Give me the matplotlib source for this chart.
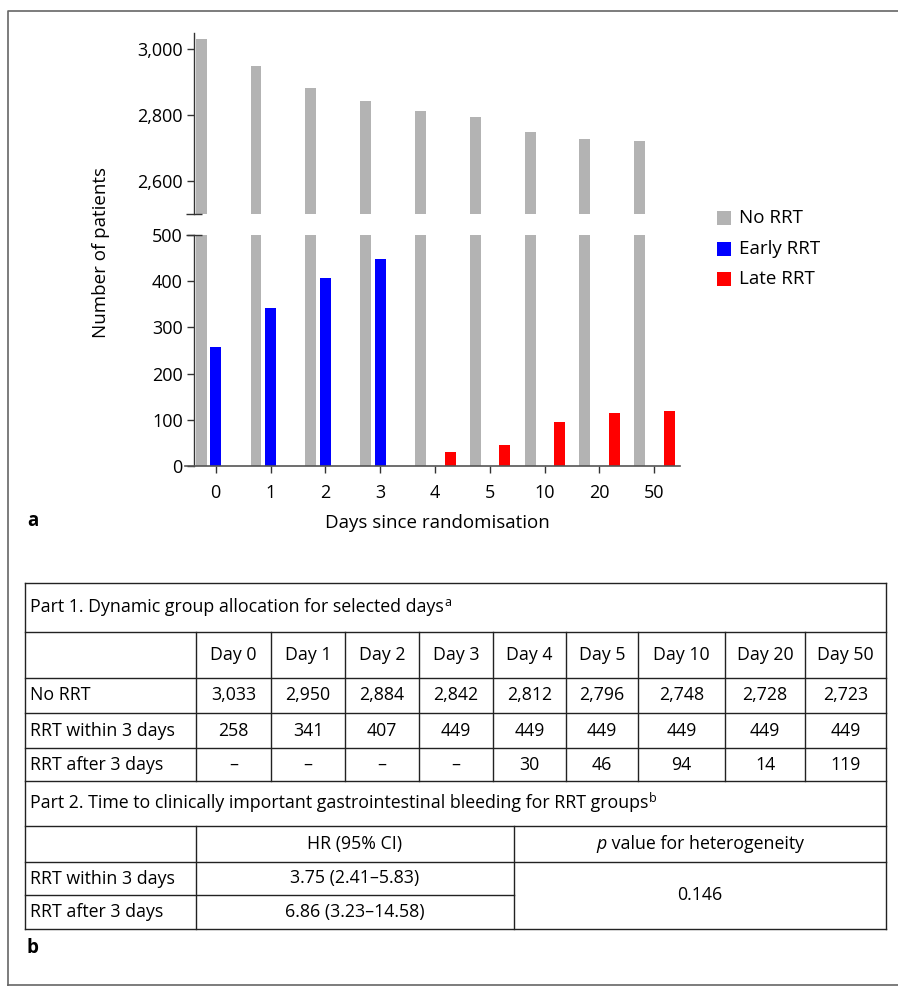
import matplotlib
matplotlib.use('Agg')
import matplotlib.pyplot as plt
from matplotlib.patches import Rectangle

plt.rcParams['font.family'] = ['Open Sans', 'DejaVu Sans']

# ---------------- data ----------------
days = ['0', '1', '2', '3', '4', '5', '10', '20', '50']
no_rrt = [3033, 2950, 2884, 2842, 2812, 2796, 2748, 2728, 2723]
early_rrt = [258, 341, 407, 449, 0, 0, 0, 0, 0]
late_rrt = [0, 0, 0, 0, 30, 46, 95, 115, 119]

series_names = ['No RRT', 'Early RRT', 'Late RRT']
series_colors = ['#b3b3b3', '#0000ff', '#ff0000']

top_ticks = [2600, 2800, 3000]
bottom_ticks = [0, 100, 200, 300, 400, 500]

tbl_days = ['Day 0', 'Day 1', 'Day 2', 'Day 3', 'Day 4', 'Day 5', 'Day 10', 'Day 20', 'Day 50']
tbl_no = ['3,033', '2,950', '2,884', '2,842', '2,812', '2,796', '2,748', '2,728', '2,723']
tbl_within = ['258', '341', '407', '449', '449', '449', '449', '449', '449']
tbl_after = ['–', '–', '–', '–', '30', '46', '94', '14', '119']
tbl_row_labels = ['No RRT', 'RRT within 3 days', 'RRT after 3 days']
hr_rows = ['RRT within 3 days', 'RRT after 3 days']
hr_vals = ['3.75 (2.41–5.83)', '6.86 (3.23–14.58)']
p_het = '0.146'

# ---------------- figure ----------------
W, H = 898, 986
fig = plt.figure(figsize=(W / 100, H / 100), dpi=100)

def fx(px):
    return px / W

def fy(py):
    return 1 - py / H

AX_L, AX_R = 185, 680
XLIM = (-0.56, 8.47)
SPINE_X = -0.40
SPINE_C = '#333333'
TICK_FS = 13

axb = fig.add_axes([fx(AX_L), fy(466), fx(AX_R) - fx(AX_L), fy(235) - fy(466)])
axt = fig.add_axes([fx(AX_L), fy(214), fx(AX_R) - fx(AX_L), fy(33) - fy(214)])

x = list(range(len(days)))
offs = [-0.265, 0.0, 0.275]
vals = [no_rrt, early_rrt, late_rrt]
for ax in (axb, axt):
    for o, v, c in zip(offs, vals, series_colors):
        ax.bar([xi + o for xi in x], v, width=0.2, color=c, linewidth=0)
    ax.set_xlim(*XLIM)
    for s in ('top', 'right'):
        ax.spines[s].set_visible(False)
    ax.spines['left'].set_position(('data', SPINE_X))
    ax.spines['left'].set_color(SPINE_C)
    ax.spines['left'].set_linewidth(1.0)
    ax.tick_params(axis='y', direction='out', length=5, width=1.0, color=SPINE_C,
                   labelsize=TICK_FS, pad=3)
    ax.patch.set_alpha(0)

axb.set_ylim(0, 500)
axb.set_yticks(bottom_ticks)
axb.set_yticklabels([f'{t:,}' for t in bottom_ticks])
axb.spines['bottom'].set_color('#555555')
axb.spines['bottom'].set_linewidth(1.2)
axb.set_xticks(x)
axb.set_xticklabels(days)
axb.tick_params(axis='x', direction='out', length=5, width=1.0, color=SPINE_C,
                labelsize=TICK_FS, pad=8)

axt.set_ylim(2500, 3050)
axt.set_yticks(top_ticks)
axt.set_yticklabels([f'{t:,}' for t in top_ticks])
axt.spines['bottom'].set_visible(False)
axt.set_xticks([])

# ---------------- overlay ----------------
ov = fig.add_axes([0, 0, 1, 1], zorder=-1)
ov.set_xlim(0, W)
ov.set_ylim(H, 0)
ov.axis('off')

ov2 = fig.add_axes([0, 0, 1, 1], zorder=5)
ov2.set_xlim(0, W)
ov2.set_ylim(H, 0)
ov2.axis('off')

# break marks
spine_px = AX_L + (SPINE_X - XLIM[0]) / (XLIM[1] - XLIM[0]) * (AX_R - AX_L)
for yy in (214, 235):
    ov2.plot([spine_px - 8, spine_px + 8], [yy, yy], color=SPINE_C, lw=1.0,
             solid_capstyle='butt')

# axis labels
ov.text(101, 252, 'Number of patients', rotation=90, ha='center', va='center', fontsize=13.5)
ov.text(437, 523, 'Days since randomisation', ha='center', va='center', fontsize=13.5)

# legend
for i, (nm, c) in enumerate(zip(series_names, series_colors)):
    yc = 218 + i * 30.5
    ov.add_patch(Rectangle((717, yc - 7), 14, 14, facecolor=c, edgecolor='none'))
    ov.text(739, yc, nm, ha='left', va='center', fontsize=13.5)

# panel labels
ov.text(27, 521, 'a', ha='left', va='center', fontsize=13.5, fontweight='bold')
ov.text(27, 948, 'b', ha='left', va='center', fontsize=13.5, fontweight='bold')

# figure frame
ov.plot([8, 8, W + 5], [H + 5, 11, 11], color='#666666', lw=1.2)
ov.plot([8, W + 5], [985, 985], color='#666666', lw=1.2)

# ---------------- table ----------------
LC = '#222222'
TL, TR = 24.5, 886
rows_y = [583, 632, 678, 713, 748, 781, 826, 862, 895, 929]
cols_x = [195.5, 271, 345, 419, 493, 566, 638, 725, 805]
p2_x = [195.5, 514]
TFS = 12.8

def hline(y, x0=TL, x1=TR):
    ov.plot([x0, x1], [y, y], color=LC, lw=1.0, solid_capstyle='projecting')

def vline(xx, y0, y1):
    ov.plot([xx, xx], [y0, y1], color=LC, lw=1.0, solid_capstyle='projecting')

for i, yy in enumerate(rows_y):
    if yy == 895:
        hline(yy, TL, p2_x[1])
    else:
        hline(yy)
vline(TL, rows_y[0], rows_y[-1])
vline(TR, rows_y[0], rows_y[-1])
for cx in cols_x:
    vline(cx, rows_y[1], rows_y[5])
for cx in p2_x:
    vline(cx, rows_y[6], rows_y[9])

renderer = fig.canvas.get_renderer()

def sup_text(xx, yy, main, sup):
    t = ov.text(xx, yy, main, ha='left', va='center', fontsize=TFS)
    bb = t.get_window_extent(renderer)
    ov.text(bb.x1 + 1, yy - 5, sup, ha='left', va='center', fontsize=9)

def mid(a, b):
    return (a + b) / 2

sup_text(30, mid(rows_y[0], rows_y[1]), 'Part 1. Dynamic group allocation for selected days', 'a')

col_edges = [cols_x[0]] + cols_x[1:] + [TR]
centers = [mid(col_edges[i], col_edges[i + 1]) for i in range(len(tbl_days))]
for cxx, d in zip(centers, tbl_days):
    ov.text(cxx, mid(rows_y[1], rows_y[2]), d, ha='center', va='center', fontsize=TFS)

for r, (lab, rowvals) in enumerate(zip(tbl_row_labels, [tbl_no, tbl_within, tbl_after])):
    yc = mid(rows_y[2 + r], rows_y[3 + r])
    ov.text(30, yc, lab, ha='left', va='center', fontsize=TFS)
    for cxx, v in zip(centers, rowvals):
        ov.text(cxx, yc, v, ha='center', va='center', fontsize=TFS)

sup_text(30, mid(rows_y[5], rows_y[6]),
         'Part 2. Time to clinically important gastrointestinal bleeding for RRT groups', 'b')

hr_c = mid(p2_x[0], p2_x[1])
p_c = mid(p2_x[1], TR)
yh = mid(rows_y[6], rows_y[7])
ov.text(hr_c, yh, 'HR (95% CI)', ha='center', va='center', fontsize=TFS)

# italic p + rest, centered together
tp = ov.text(0, yh, 'p', ha='left', va='center', fontsize=TFS, style='italic')
tr = ov.text(0, yh, ' value for heterogeneity', ha='left', va='center', fontsize=TFS)
wp = tp.get_window_extent(renderer).width
wr = tr.get_window_extent(renderer).width
start = p_c - (wp + wr) / 2
tp.set_x(start)
tr.set_x(start + wp)

for r, (lab, v) in enumerate(zip(hr_rows, hr_vals)):
    yc = mid(rows_y[7 + r], rows_y[8 + r])
    ov.text(30, yc, lab, ha='left', va='center', fontsize=TFS)
    ov.text(hr_c, yc, v, ha='center', va='center', fontsize=TFS)
ov.text(p_c, mid(rows_y[7], rows_y[9]), p_het, ha='center', va='center', fontsize=TFS)

fig.savefig('out.png', dpi=100)
